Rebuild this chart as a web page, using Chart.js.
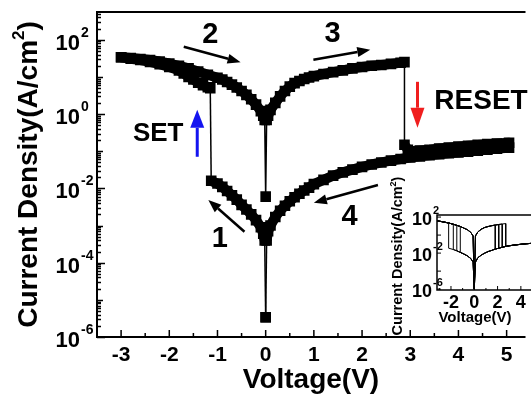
<!DOCTYPE html>
<html>
<head>
<meta charset="utf-8">
<script src="https://cdn.jsdelivr.net/npm/chart.js@4.4.1/dist/chart.umd.min.js"></script>
<style>
  html, body { margin: 0; padding: 0; background: #fff; overflow: hidden; }
  #wrap { position: relative; width: 531px; height: 397px; }
  #main { position: absolute; left: 0; top: 0; }
  #inset { position: absolute; left: 385px; top: 170px; }
</style>
</head>
<body>
<div id="wrap">
  <canvas id="main" width="531" height="397"></canvas>
  <canvas id="inset" width="146" height="170"></canvas>
</div>
<script>
const FONT = "'Liberation Sans', Arial, sans-serif";

// sweep 1: HRS, 0 -> SET at about -1.13 V
const hrsNegV = [0, -0.02, -0.05, -0.1, -0.2, -0.3, -0.4, -0.5, -0.6, -0.7, -0.8, -0.9, -1.0, -1.13];
const hrsNegJ = [3.4e-6, 4e-4, 6e-4, 9e-4, 1.4e-3, 2e-3, 2.7e-3, 3.6e-3, 5e-3, 6.5e-3, 8.5e-3, 1.1e-2, 1.35e-2, 1.6e-2];
// LRS right after SET, out to -3 V
const lrsFwdV = [-1.15, -1.2, -1.3, -1.4, -1.5, -1.6, -1.7, -1.8, -2.0, -2.2, -2.4, -2.6, -2.8, -3.0];
const lrsFwdJ = [5, 5.3, 6, 7, 8.5, 10, 12.5, 15, 18.5, 22, 25.5, 28.5, 31, 34];
// sweep 2: LRS back to 0
const lrsRetV = [-3.0, -2.8, -2.6, -2.4, -2.2, -2.0, -1.8, -1.6, -1.4, -1.2, -1.0, -0.9, -0.8, -0.7, -0.6, -0.5, -0.4, -0.3, -0.2, -0.1, -0.05, -0.02, 0];
const lrsRetJ = [34, 32.5, 30.5, 28.5, 26, 23, 20, 17, 14, 11.5, 9.5, 8.5, 7.3, 6.2, 5.2, 4.2, 3.3, 2.5, 1.8, 1.2, 0.9, 0.7, 0.006];
// sweep 3: LRS, 0 -> RESET at about 2.88 V
const lrsPosV = [0.02, 0.05, 0.1, 0.2, 0.3, 0.4, 0.5, 0.6, 0.7, 0.8, 0.9, 1.0, 1.2, 1.4, 1.6, 1.8, 2.0, 2.2, 2.4, 2.6, 2.8, 2.88];
const lrsPosJ = [0.7, 0.9, 1.3, 2.0, 3.0, 4.2, 5.5, 6.8, 7.8, 8.8, 9.7, 10.5, 12, 13.5, 15, 17, 18.5, 20, 21, 22.5, 24, 25];
// HRS after RESET, out to about 5 V
const hrsFwdV = [2.88, 2.95, 3.0, 3.2, 3.4, 3.6, 3.8, 4.0, 4.2, 4.4, 4.6, 4.8, 5.05];
const hrsFwdJ = [0.15, 0.11, 0.1, 0.105, 0.11, 0.118, 0.125, 0.133, 0.14, 0.148, 0.155, 0.162, 0.17];
// sweep 4: HRS back to 0
const hrsRetV = [5.05, 4.8, 4.6, 4.4, 4.2, 4.0, 3.8, 3.6, 3.4, 3.2, 3.0, 2.8, 2.6, 2.4, 2.2, 2.0, 1.8, 1.6, 1.4, 1.2, 1.0, 0.9, 0.8, 0.7, 0.6, 0.5, 0.4, 0.3, 0.2, 0.1, 0.05, 0.02, 0];
const hrsRetJ = [0.125, 0.118, 0.11, 0.104, 0.098, 0.093, 0.088, 0.083, 0.078, 0.073, 0.068, 0.062, 0.056, 0.05, 0.044, 0.038, 0.032, 0.027, 0.022, 0.017, 0.013, 0.0105, 0.0088, 0.0072, 0.0058, 0.0045, 0.0034, 0.0025, 0.0017, 0.001, 0.0007, 0.0004, 3.4e-6];

const xTickLabels = ['-3', '-2', '-1', '0', '1', '2', '3', '4', '5'];
const yLabelPowers = [2, 0, -2, -4, -6];

// inset: several cycles
const insetV    = [-3.2, -3.0, -2.6, -2.2, -1.8, -1.5, -1.2, -0.9, -0.6, -0.3, -0.1, 0, 0.1, 0.3, 0.6, 0.9, 1.2, 1.5, 1.8, 2.1, 2.4, 2.7, 3.0, 3.5, 4.0, 4.5, 4.85];
const insetLrsJ = [40, 35, 28, 22, 16, 12, 9, 6, 4, 2, 0.8, 1e-6, 0.8, 2.2, 4.5, 7, 9, 11, 13, 15, 17, 19, 21, 24, 26, 28, 30];
const insetHrsJ = [0.08, 0.07, 0.05, 0.035, 0.025, 0.018, 0.012, 0.008, 0.005, 0.0025, 0.001, 1e-6, 0.001, 0.003, 0.006, 0.01, 0.015, 0.02, 0.028, 0.035, 0.045, 0.055, 0.065, 0.08, 0.095, 0.11, 0.12];
const insetSetV = [-2.2, -1.8, -1.5, -1.2];
const insetResetV = [1.8, 2.1, 2.4, 2.7];
const insetYPowers = [2, -2, -6];

const pts = (vs, js) => vs.map((v, i) => ({ x: v, y: js[i] }));
const sweep = [].concat(
  pts(hrsNegV, hrsNegJ), pts(lrsFwdV, lrsFwdJ), pts(lrsRetV, lrsRetJ),
  pts(lrsPosV, lrsPosJ), pts(hrsFwdV, hrsFwdJ), pts(hrsRetV, hrsRetJ)
);

function insetCycle(setV, resetV) {
  const i0 = insetV.indexOf(0), iS = insetV.indexOf(setV), iR = insetV.indexOf(resetV), n = insetV.length - 1;
  const p = [];
  for (let i = i0; i >= iS; i--) p.push({ x: insetV[i], y: insetHrsJ[i] });
  for (let i = iS; i >= 0; i--) p.push({ x: insetV[i], y: insetLrsJ[i] });
  for (let i = 0; i <= iR; i++) p.push({ x: insetV[i], y: insetLrsJ[i] });
  for (let i = iR; i <= n; i++) p.push({ x: insetV[i], y: insetHrsJ[i] });
  for (let i = n; i >= i0; i--) p.push({ x: insetV[i], y: insetHrsJ[i] });
  return p;
}

// annotations, in data units
const stepLabels = [
  { text: '1', v: -0.95, j: 4.4e-4 },
  { text: '2', v: -1.15, j: 135 },
  { text: '3', v: 1.39, j: 145 },
  { text: '4', v: 1.74, j: 1.7e-3 }
];
const stepArrows = [
  { from: [-1.70, 65], to: [-0.52, 25] },
  { from: [0.99, 29], to: [2.17, 54] },
  { from: [-0.44, 6.8e-4], to: [-1.19, 4.9e-3] },
  { from: [2.33, 0.0123], to: [1.0, 4.1e-3] }
];

function arrow(ctx, x1, y1, x2, y2, color, lw, hl, hw) {
  const a = Math.atan2(y2 - y1, x2 - x1);
  const bx = x2 - hl * Math.cos(a), by = y2 - hl * Math.sin(a);
  ctx.strokeStyle = color; ctx.fillStyle = color; ctx.lineWidth = lw;
  ctx.beginPath(); ctx.moveTo(x1, y1); ctx.lineTo(bx, by); ctx.stroke();
  ctx.beginPath();
  ctx.moveTo(x2, y2);
  ctx.lineTo(bx + hw * Math.sin(a), by - hw * Math.cos(a));
  ctx.lineTo(bx - hw * Math.sin(a), by + hw * Math.cos(a));
  ctx.closePath(); ctx.fill();
}

function powerLabel(ctx, xRight, py, p, big, small, dy1, dy2) {
  ctx.fillStyle = '#000';
  ctx.font = `bold ${big}px ${FONT}`;
  ctx.textAlign = 'right'; ctx.textBaseline = 'middle';
  ctx.fillText('10', xRight, py + dy1);
  ctx.font = `bold ${small}px ${FONT}`;
  ctx.textAlign = 'left';
  ctx.fillText(String(p), xRight + 1, py - dy2);
}

function yTitle(ctx, cx, cy, size) {
  const a = 'Current Density(A/cm', b = ')';
  ctx.save();
  ctx.translate(cx, cy);
  ctx.rotate(-Math.PI / 2);
  ctx.fillStyle = '#000';
  ctx.textBaseline = 'middle'; ctx.textAlign = 'left';
  ctx.font = `bold ${size}px ${FONT}`;
  const wa = ctx.measureText(a).width, wb = ctx.measureText(b).width;
  ctx.font = `bold ${Math.round(size * 0.6)}px ${FONT}`;
  const ws = ctx.measureText('2').width;
  let x = -(wa + ws + wb) / 2;
  ctx.font = `bold ${size}px ${FONT}`;
  ctx.fillText(a, x, 0); x += wa;
  ctx.font = `bold ${Math.round(size * 0.6)}px ${FONT}`;
  ctx.fillText('2', x, -size * 0.33); x += ws;
  ctx.font = `bold ${size}px ${FONT}`;
  ctx.fillText(b, x, 0);
  ctx.restore();
}

const mainDecor = {
  id: 'mainDecor',
  afterDraw(chart) {
    const { ctx, chartArea: a, scales: { x, y } } = chart;
    ctx.save();
    ctx.strokeStyle = '#000'; ctx.lineWidth = 2;
    ctx.beginPath();
    ctx.moveTo(a.right + 2, a.top); ctx.lineTo(a.left, a.top);
    ctx.lineTo(a.left, a.bottom); ctx.lineTo(a.right + 2, a.bottom);
    ctx.stroke();
    // inward ticks
    ctx.lineWidth = 1.5;
    ctx.beginPath();
    for (let k = -6; k <= 10; k++) {
      const px = x.getPixelForValue(k / 2);
      ctx.moveTo(px, a.bottom); ctx.lineTo(px, a.bottom - (k % 2 === 0 ? 7 : 4));
    }
    for (let e = -6; e <= 2; e++) {
      for (let m = 1; m <= 9; m++) {
        const val = m * Math.pow(10, e);
        if (val > y.max) break;
        const py = Math.round(y.getPixelForValue(val)) + 0.5;
        const len = m === 1 ? (e % 2 === 0 ? 8 : 6) : 4;
        ctx.moveTo(a.left, py); ctx.lineTo(a.left + len, py);
      }
    }
    ctx.stroke();
    // y labels
    yLabelPowers.forEach(p => powerLabel(ctx, 80, y.getPixelForValue(Math.pow(10, p)), p, 22, 14, 4, 7));
    // titles
    yTitle(ctx, 29, (a.top + a.bottom) / 2, 28);
    ctx.fillStyle = '#000';
    ctx.font = `bold 28px ${FONT}`;
    ctx.textAlign = 'center'; ctx.textBaseline = 'middle';
    ctx.fillText('Voltage(V)', 311, 380);
    // sweep numbers and arrows
    ctx.font = `bold 29px ${FONT}`;
    stepLabels.forEach(s => ctx.fillText(s.text, x.getPixelForValue(s.v), y.getPixelForValue(s.j)));
    stepArrows.forEach(s => arrow(ctx,
      x.getPixelForValue(s.from[0]), y.getPixelForValue(s.from[1]),
      x.getPixelForValue(s.to[0]), y.getPixelForValue(s.to[1]), '#000', 2.5, 13, 5));
    ctx.font = `bold 26px ${FONT}`;
    ctx.fillText('SET', x.getPixelForValue(-2.23), y.getPixelForValue(0.3));
    ctx.textAlign = 'left';
    ctx.font = `bold 28px ${FONT}`;
    ctx.fillText('RESET', x.getPixelForValue(3.5), y.getPixelForValue(2.2));
    arrow(ctx, x.getPixelForValue(-1.42), y.getPixelForValue(0.071), x.getPixelForValue(-1.42), y.getPixelForValue(1.3), '#1414f0', 3, 18, 7);
    arrow(ctx, x.getPixelForValue(3.15), y.getPixelForValue(7.4), x.getPixelForValue(3.15), y.getPixelForValue(0.43), '#f01e1e', 3, 20, 7);
    ctx.restore();
  }
};

// jumps (SET, RESET, the dips at 0 V) are thin lines; the sweeps are thick bands
const isJump = c => {
  const r = c.p1.parsed.y / c.p0.parsed.y;
  return r > 4 || r < 0.25;
};

new Chart(document.getElementById('main'), {
  type: 'scatter',
  data: {
    datasets: [{
      data: sweep,
      showLine: true,
      borderColor: '#000',
      borderWidth: 10,
      borderJoinStyle: 'round',
      segment: { borderWidth: c => (isJump(c) ? 1.5 : 10) },
      pointStyle: 'rect',
      pointRadius: 7.5,
      pointBackgroundColor: '#000',
      pointBorderWidth: 0,
      tension: 0
    }]
  },
  options: {
    responsive: false,
    animation: false,
    devicePixelRatio: 1,
    layout: { padding: { top: 12, right: 0, left: 0, bottom: 0 } },
    plugins: { legend: { display: false }, tooltip: { enabled: false } },
    scales: {
      x: {
        type: 'linear', min: -3.5, max: 5.35,
        grid: { display: false, drawTicks: false },
        border: { display: false },
        ticks: {
          stepSize: 1, includeBounds: false, autoSkip: false, maxRotation: 0, padding: 6,
          color: '#000', font: { family: FONT, size: 21, weight: 'bold' },
          callback: v => xTickLabels[v + 3]
        },
        afterFit: s => { s.height = 60; }
      },
      y: {
        type: 'logarithmic', min: 1e-6, max: 560,
        grid: { display: false, drawTicks: false },
        border: { display: false },
        ticks: { display: false },
        afterFit: s => { s.width = 97; }
      }
    }
  },
  plugins: [mainDecor]
});

const insetDecor = {
  id: 'insetDecor',
  afterDraw(chart) {
    const { ctx, chartArea: a, scales: { x, y } } = chart;
    ctx.save();
    ctx.strokeStyle = '#000'; ctx.lineWidth = 1.5;
    ctx.beginPath();
    ctx.moveTo(a.right + 2, a.top); ctx.lineTo(a.left, a.top);
    ctx.lineTo(a.left, a.bottom); ctx.lineTo(a.right + 2, a.bottom);
    ctx.stroke();
    ctx.lineWidth = 1;
    ctx.beginPath();
    for (let v = -3; v <= 4; v++) {
      const px = x.getPixelForValue(v);
      ctx.moveTo(px, a.bottom); ctx.lineTo(px, a.bottom - (v % 2 === 0 ? 4 : 2));
    }
    for (let e = -6; e <= 2; e += 2) {
      const py = y.getPixelForValue(Math.pow(10, e));
      ctx.moveTo(a.left, py); ctx.lineTo(a.left + 4, py);
    }
    ctx.stroke();
    insetYPowers.forEach(p => powerLabel(ctx, 47, y.getPixelForValue(Math.pow(10, p)), p, 18, 11, 3, 6));
    yTitle(ctx, 13, 86, 14.5);
    ctx.fillStyle = '#000';
    ctx.font = `bold 15px ${FONT}`;
    ctx.textAlign = 'center'; ctx.textBaseline = 'middle';
    ctx.fillText('Voltage(V)', 90, 148);
    ctx.restore();
  }
};

new Chart(document.getElementById('inset'), {
  type: 'scatter',
  data: {
    datasets: insetSetV.map((sv, i) => ({
      data: insetCycle(sv, insetResetV[i]),
      showLine: true,
      borderColor: '#000',
      borderWidth: 1,
      pointRadius: 0,
      tension: 0
    }))
  },
  options: {
    responsive: false,
    animation: false,
    devicePixelRatio: 1,
    layout: { padding: { top: 45, right: 0, left: 0, bottom: 0 } },
    plugins: { legend: { display: false }, tooltip: { enabled: false } },
    scales: {
      x: {
        type: 'linear', min: -3.2, max: 4.87,
        grid: { display: false, drawTicks: false },
        border: { display: false },
        ticks: {
          stepSize: 2, includeBounds: false, autoSkip: false, maxRotation: 0, padding: 2,
          color: '#000', font: { family: FONT, size: 18, weight: 'bold' }
        },
        afterFit: s => { s.height = 50; }
      },
      y: {
        type: 'logarithmic', min: 8e-7, max: 170,
        grid: { display: false, drawTicks: false },
        border: { display: false },
        ticks: { display: false },
        afterFit: s => { s.width = 52; }
      }
    }
  },
  plugins: [insetDecor]
});
</script>
</body>
</html>
